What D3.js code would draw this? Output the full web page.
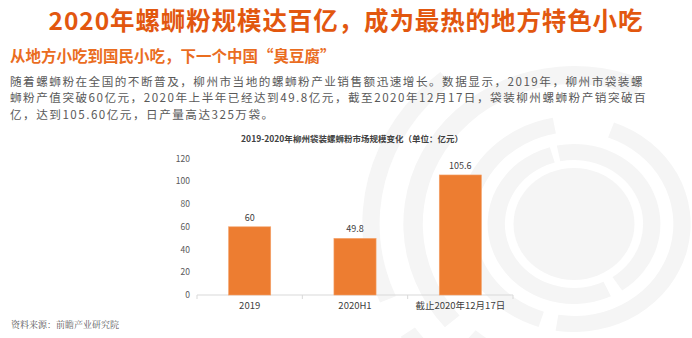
<!DOCTYPE html>
<html>
<head>
<meta charset="utf-8">
<script src="https://cdn.jsdelivr.net/npm/d3@7"></script>
<style>
  html, body { margin: 0; padding: 0; background: #fff; }
  svg { display: block; font-family: "Noto Sans CJK SC", "Noto Sans", sans-serif; }
</style>
</head>
<body>
<svg id="chart" width="692" height="338"></svg>
<script>
// Liuzhou bagged river-snail noodle market size (亿元)
const categories = ["2019", "2020H1", "截止2020年12月17日"];
const values = [60, 49.8, 105.6];
const yTicks = [0, 20, 40, 60, 80, 100, 120];

const headline = "2020年螺蛳粉规模达百亿，成为最热的地方特色小吃";
const subhead = "从地方小吃到国民小吃，下一个中国“臭豆腐”";
const bodyLines = [
  "随着螺蛳粉在全国的不断普及，柳州市当地的螺蛳粉产业销售额迅速增长。数据显示，2019年，柳州市袋装螺",
  "蛳粉产值突破60亿元，2020年上半年已经达到49.8亿元，截至2020年12月17日，袋装柳州螺蛳粉产销突破百",
  "亿，达到105.60亿元，日产量高达325万袋。"
];
const chartTitle = "2019-2020年柳州袋装螺蛳粉市场规模变化（单位：亿元）";
const sourceNote = "资料来源：前瞻产业研究院";

const svg = d3.select("#chart");

// Decorative concentric rings on the right side of the slide
const deco = svg.append("g").attr("transform", "translate(574,224) scale(1.08,1)").attr("fill", "#f5f5f5");
const arc = d3.arc();
deco.append("circle").attr("r", 56);
const rings = [
  { inner: 64, outer: 80, start: -0.2, end: 2.55 },
  { inner: 64, outer: 80, start: 2.7, end: 6.0 },
  { inner: 92, outer: 108, start: 0.35, end: 3.3 },
  { inner: 92, outer: 108, start: 3.45, end: 6.1 },
  { inner: 140, outer: 158, start: 4.0, end: 6.7 },
  { inner: 140, outer: 158, start: 3.1, end: 3.85 },
  { inner: 180, outer: 196, start: 4.3, end: 5.6 },
  { inner: 180, outer: 196, start: 3.3, end: 4.1 }
];
deco.selectAll("path.ring").data(rings).join("path")
  .attr("class", "ring")
  .attr("d", d => arc({ innerRadius: d.inner, outerRadius: d.outer, startAngle: d.start, endAngle: d.end }));

// Slide headline, subhead and body copy
svg.append("text")
  .attr("x", 346).attr("y", 30)
  .attr("text-anchor", "middle")
  .attr("font-size", 24.5).attr("letter-spacing", 0.9).attr("font-weight", 700)
  .attr("fill", "#e2570f")
  .text(headline);

svg.append("text")
  .attr("x", 10).attr("y", 62)
  .attr("font-size", 15.5).attr("font-weight", 700)
  .attr("fill", "#ea6d1f")
  .text(subhead);

svg.append("g").selectAll("text").data(bodyLines).join("text")
  .attr("x", 10).attr("y", (d, i) => 85.5 + i * 16.8)
  .attr("font-size", 11.6).attr("letter-spacing", 1.5).attr("fill", "#595959")
  .text(d => d);

// Bar chart
const margin = { left: 197, right: 513, top: 159, bottom: 295 };
const x = d3.scaleBand().domain(categories).range([margin.left, margin.right]).paddingInner(0.6).paddingOuter(0.3);
const y = d3.scaleLinear().domain([0, 120]).range([margin.bottom, margin.bottom - 136.4]);

svg.append("text")
  .attr("x", 352).attr("y", 142)
  .attr("text-anchor", "middle")
  .attr("font-size", 8.5).attr("font-weight", 700)
  .attr("fill", "#404040")
  .text(chartTitle);

// y tick labels (no axis line or gridlines)
svg.append("g").selectAll("text").data(yTicks).join("text")
  .attr("x", 190).attr("y", d => y(d))
  .attr("dy", "0.35em")
  .attr("text-anchor", "end")
  .attr("font-size", 8.5).attr("fill", "#595959")
  .text(d => d);

// x axis with tick marks at band boundaries
const xAxis = svg.append("g").attr("transform", `translate(0,${y(0)})`);
xAxis.append("line")
  .attr("x1", margin.left).attr("x2", margin.right)
  .attr("stroke", "#d9d9d9").attr("stroke-width", 1);
const edges = d3.range(categories.length + 1).map(i => margin.left + i * (margin.right - margin.left) / categories.length);
xAxis.selectAll("line.tick").data(edges).join("line")
  .attr("class", "tick")
  .attr("x1", d => d).attr("x2", d => d)
  .attr("y1", 0).attr("y2", 4)
  .attr("stroke", "#d9d9d9");
xAxis.selectAll("text").data(categories).join("text")
  .attr("x", d => x(d) + x.bandwidth() / 2)
  .attr("y", 13.5)
  .attr("text-anchor", "middle")
  .attr("font-size", 9.5).attr("fill", "#404040")
  .text(d => d);

const data = categories.map((c, i) => ({ c, v: values[i] }));
svg.append("g").selectAll("rect").data(data).join("rect")
  .attr("x", d => x(d.c))
  .attr("width", x.bandwidth())
  .attr("y", d => y(d.v))
  .attr("height", d => y(0) - y(d.v))
  .attr("fill", "#ed7d31")
  .attr("stroke", "#f4a26a").attr("stroke-width", 0.6);

svg.append("g").selectAll("text").data(data).join("text")
  .attr("x", d => x(d.c) + x.bandwidth() / 2)
  .attr("y", d => y(d.v) - 6)
  .attr("text-anchor", "middle")
  .attr("font-size", 9).attr("fill", "#404040")
  .text(d => d.v);

svg.append("text")
  .attr("x", 11).attr("y", 328)
  .attr("font-size", 9).attr("fill", "#595959")
  .attr("font-family", "'Noto Serif CJK SC', 'Noto Sans CJK SC', serif")
  .text(sourceNote);
</script>
</body>
</html>
